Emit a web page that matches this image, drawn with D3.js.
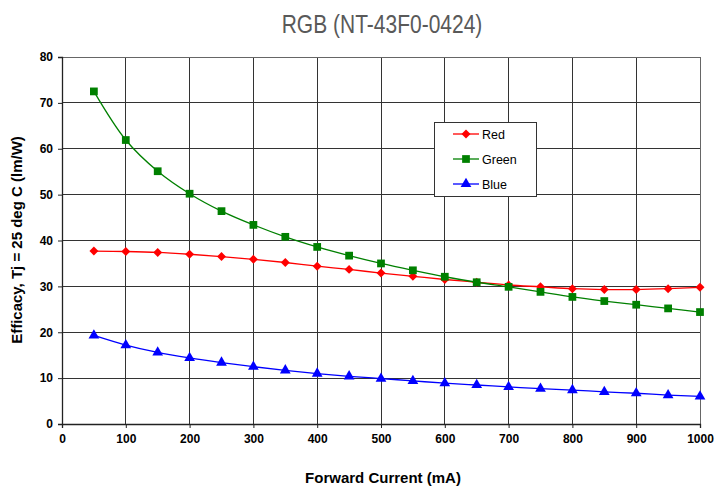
<!DOCTYPE html>
<html><head><meta charset="utf-8">
<script src="https://cdn.jsdelivr.net/npm/d3@7"></script>
<style>body{margin:0;background:#fff}svg{display:block}</style>
</head><body>
<script>
const currents = [50,100,150,200,250,300,350,400,450,500,550,600,650,700,750,800,850,900,950,1000];
const redVals = [37.7,37.6,37.4,37.0,36.5,35.9,35.2,34.4,33.7,32.9,32.2,31.5,30.9,30.3,29.9,29.5,29.3,29.3,29.5,29.8];
const greenVals = [72.5,61.9,55.1,50.2,46.4,43.4,40.8,38.6,36.7,35.0,33.5,32.1,30.9,29.9,28.8,27.7,26.8,26.0,25.2,24.4];
const blueVals = [19.3,17.2,15.6,14.4,13.4,12.5,11.7,11.0,10.4,9.9,9.4,8.9,8.5,8.1,7.7,7.4,7.0,6.7,6.3,6.0];
const xTicks = [0,100,200,300,400,500,600,700,800,900,1000];
const yTicks = [0,10,20,30,40,50,60,70,80];
const seriesNames = ["Red","Green","Blue"];
const seriesColors = ["#ff0000","#008000","#0000ff"];

const W=715,H=491;
const svg=d3.select("body").append("svg").attr("width",W).attr("height",H);
const x=d3.scaleLinear().domain([0,1000]).range([62,700]);
const y=d3.scaleLinear().domain([0,80]).range([424,57]);
const font="'Liberation Sans',Arial,sans-serif";

svg.append("text").attr("transform","translate(382,33) scale(0.84,1)").attr("text-anchor","middle")
  .attr("font-family",font).attr("font-size",25).attr("fill","#595959").text("RGB (NT-43F0-0424)");

// grid
const g=svg.append("g");
g.selectAll(".vg").data(xTicks.slice(1)).enter().append("line")
  .attr("x1",d=>x(d)).attr("x2",d=>x(d)).attr("y1",y(80)).attr("y2",y(0))
  .attr("stroke","#333").attr("stroke-width",1).attr("shape-rendering","crispEdges");
g.selectAll(".hg").data(yTicks.slice(1)).enter().append("line")
  .attr("x1",x(0)).attr("x2",x(1000)).attr("y1",d=>y(d)).attr("y2",d=>y(d))
  .attr("stroke","#333").attr("stroke-width",1).attr("shape-rendering","crispEdges");
g.append("rect").attr("x",x(0)).attr("y",y(80)).attr("width",x(1000)-x(0)).attr("height",y(0)-y(80))
  .attr("fill","none").attr("stroke","#666").attr("shape-rendering","crispEdges");

// axes
const xa=svg.append("g").attr("transform",`translate(0,${y(0)})`)
  .call(d3.axisBottom(x).tickValues(xTicks).tickFormat(d3.format("d")).tickSize(4).tickPadding(6));
const ya=svg.append("g").attr("transform",`translate(${x(0)},0)`)
  .call(d3.axisLeft(y).tickValues(yTicks).tickFormat(d3.format("d")).tickSize(4).tickPadding(5));
[xa,ya].forEach(a=>{
  a.select(".domain").attr("stroke","#222").attr("stroke-width",1.3);
  a.selectAll(".tick line").attr("stroke","#222");
  a.selectAll("text").attr("font-family",font).attr("font-size",12).attr("font-weight","bold").attr("fill","#000");
});

svg.append("text").attr("x",383).attr("y",483).attr("text-anchor","middle")
  .attr("font-family",font).attr("font-size",15).attr("font-weight","bold").text("Forward Current (mA)");
svg.append("text").attr("transform","translate(22,240) rotate(-90)").attr("text-anchor","middle")
  .attr("font-family",font).attr("font-size",15).attr("font-weight","bold").text("Efficacy, Tj = 25 deg C (lm/W)");

const allVals=[redVals,greenVals,blueVals];
const symbols=[d3.symbolSquare,d3.symbolSquare,d3.symbolTriangle];
const symSize=[40,60,50];
const symRot=[45,0,0];
const line=d3.line().x((d,i)=>x(currents[i])).y(d=>y(d)).curve(d3.curveCatmullRom.alpha(0.5));
allVals.forEach((vals,k)=>{
  svg.append("path").datum(vals).attr("d",line).attr("fill","none").attr("stroke",seriesColors[k]).attr("stroke-width",1.3);
  svg.selectAll(".m"+k).data(vals).enter().append("path")
    .attr("transform",(d,i)=>`translate(${x(currents[i])},${y(d)}) rotate(${symRot[k]})`)
    .attr("d",d3.symbol().type(symbols[k]).size(symSize[k]))
    .attr("fill",seriesColors[k]);
});

// legend
const lg=svg.append("g");
lg.append("rect").attr("x",434).attr("y",122).attr("width",102).attr("height",74)
  .attr("fill","#fff").attr("stroke","#333").attr("shape-rendering","crispEdges");
seriesNames.forEach((n,k)=>{
  const yy=134+k*25;
  lg.append("line").attr("x1",453).attr("x2",479).attr("y1",yy).attr("y2",yy).attr("stroke",seriesColors[k]).attr("stroke-width",1.3);
  lg.append("path").attr("transform",`translate(466,${yy}) rotate(${symRot[k]})`).attr("d",d3.symbol().type(symbols[k]).size(symSize[k])).attr("fill",seriesColors[k]);
  lg.append("text").attr("x",482).attr("y",yy+4.5).attr("font-family",font).attr("font-size",12.5).text(n);
});
</script>
</body></html>
